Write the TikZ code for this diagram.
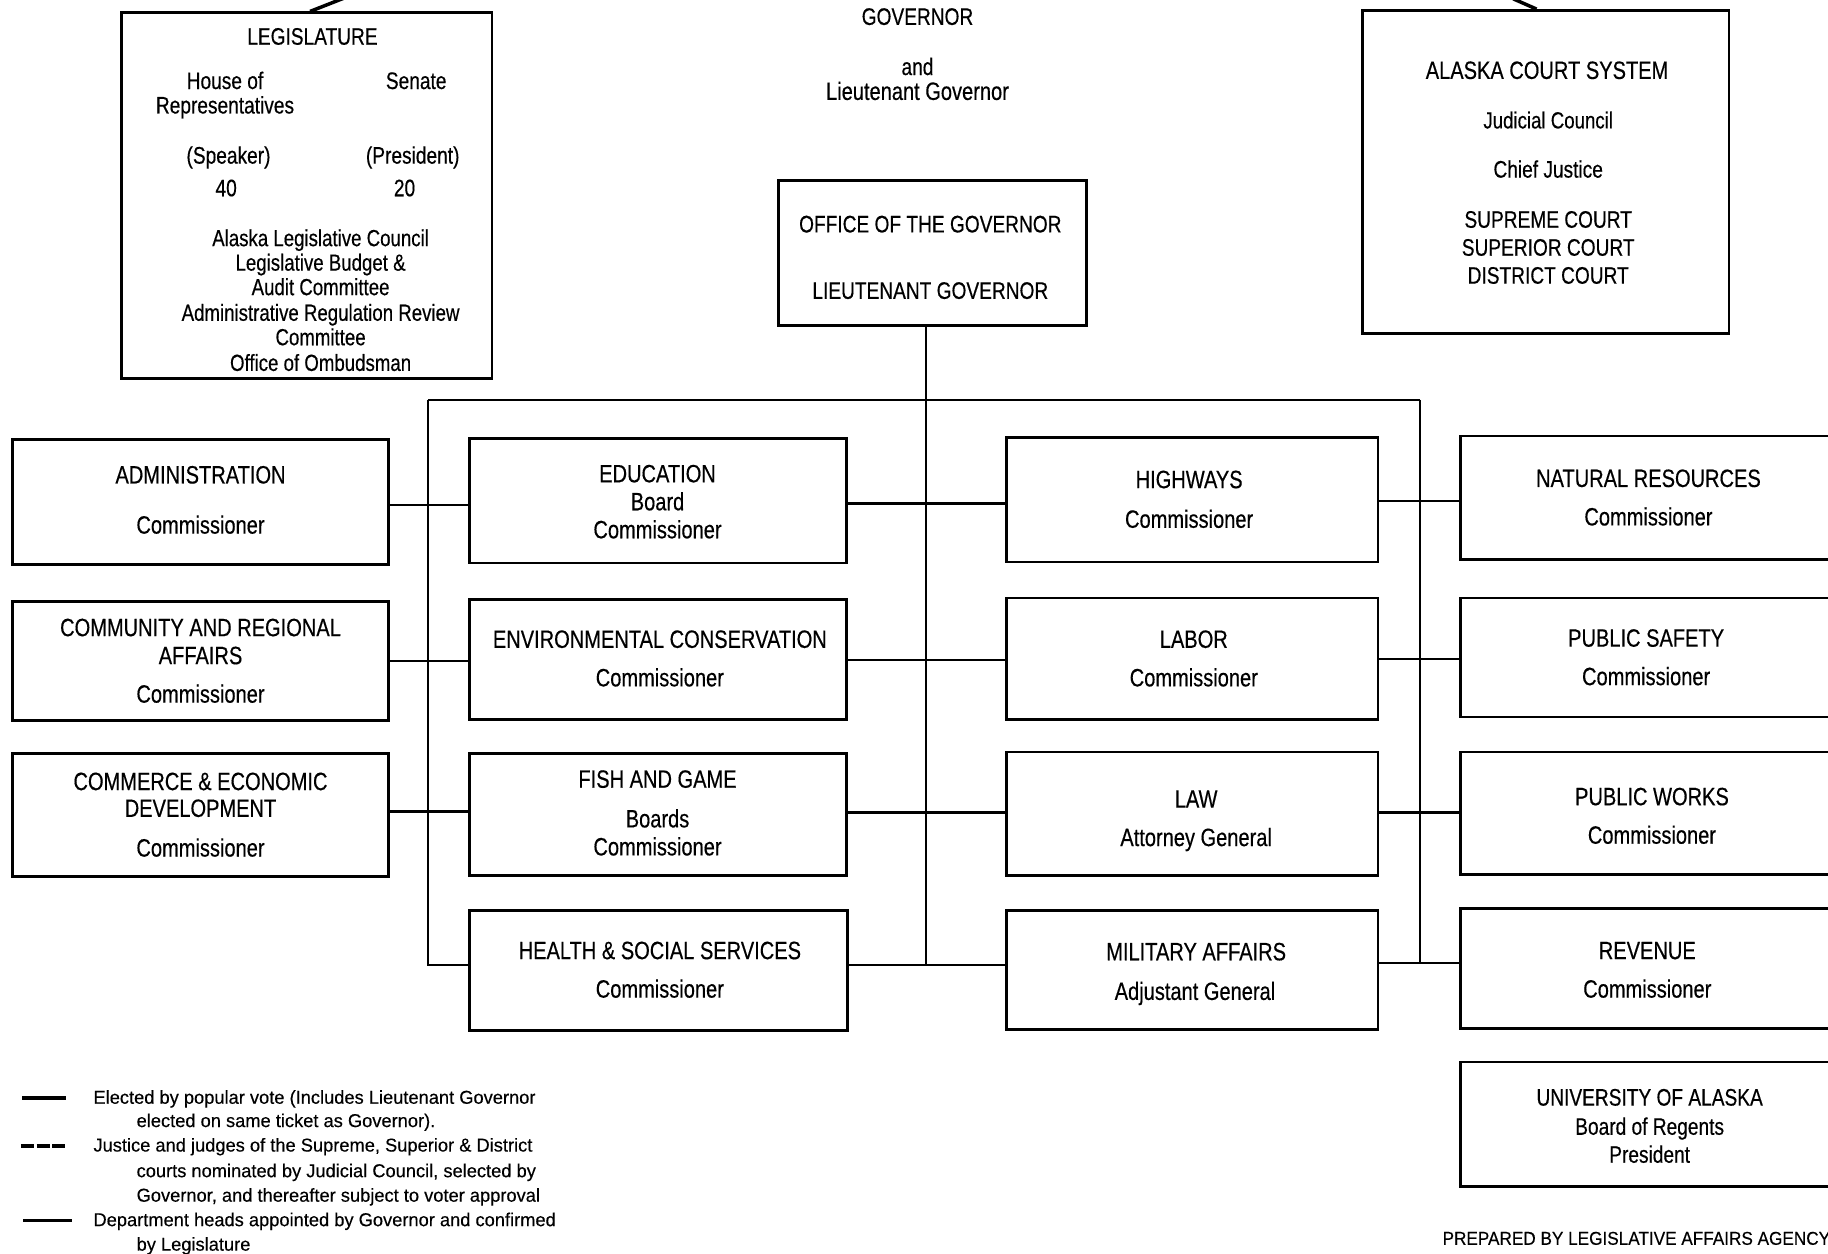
\documentclass[tikz,border=0pt]{standalone}
\usepackage{fontspec}
\setmainfont{Liberation Sans}[FakeStretch=0.8, FakeBold=0.4]
\newfontfamily\legfont{Liberation Sans}[FakeStretch=0.98, FakeBold=0.3]
\newfontfamily\prepfont{Liberation Sans}[FakeStretch=0.92, FakeBold=0.3]
\begin{document}
\begin{tikzpicture}[x=1pt,y=-1pt,
  box/.style={draw=black, line width=2.4pt, rectangle, inner sep=0pt},
  t/.style={inner sep=0pt, font=\fontsize{21.5}{23}\selectfont, text height=15.4pt, text depth=0pt},
  tm/.style={t, font=\fontsize{20.5}{22}\selectfont, text height=14.7pt},
  ts/.style={t, font=\fontsize{20}{22}\selectfont, text height=14.3pt},
  lg/.style={inner sep=0pt, anchor=west, font=\legfont\fontsize{16}{18}\selectfont, text height=11.5pt, text depth=0pt},
  conn/.style={line width=2pt},
  key/.style={line width=3pt}]
\fill[white] (0,0) rectangle (1568,1075);
\clip (0,0) rectangle (1568,1075);

% ---------- top boxes ----------
\node[box, minimum width=318pt, minimum height=314pt] (leg) at (263,168) {};
\node[tm] (legT) at (268,31) {LEGISLATURE};
\node[tm] (legH1) at (193,69) {House of};
\node[tm] (legH2) at (193,90) {Representatives};
\node[tm] (legS) at (357,69) {Senate};
\node[tm] (legSp) at (196,133) {(Speaker)};
\node[tm] (legPr) at (354,133) {(President)};
\node[tm] (leg40) at (194,161) {40};
\node[tm] (leg20) at (347,161) {20};
\node[ts] (legA) at (275,204) {Alaska Legislative Council};
\node[ts] (legB) at (275,225) {Legislative Budget \&};
\node[ts] (legC) at (275,246) {Audit Committee};
\node[ts] (legD) at (275,268) {Administrative Regulation Review};
\node[ts] (legE) at (275,289) {Committee};
\node[ts] (legF) at (275,311) {Office of Ombudsman};

\node[tm] (govA) at (787,14) {GOVERNOR};
\node[tm] (govB) at (787,57) {and};
\node[t] (govC) at (787,78) {Lieutenant Governor};

\node[box, minimum width=264pt, minimum height=124pt] (off) at (800,217) {};
\node[tm] (offA) at (798,192) {OFFICE OF THE GOVERNOR};
\node[tm] (offB) at (798,249) {LIEUTENANT GOVERNOR};

\node[box, minimum width=314pt, minimum height=277pt] (court) at (1326,147.5) {};
\node[t] (cA) at (1327,60) {ALASKA COURT SYSTEM};
\node[ts] (cB) at (1328,103) {Judicial Council};
\node[tm] (cC) at (1328,145) {Chief Justice};
\node[tm] (cD) at (1328,188) {SUPREME COURT};
\node[tm] (cE) at (1328,212) {SUPERIOR COURT};
\node[tm] (cF) at (1328,236) {DISTRICT COURT};

% fragments of lines from above
\draw[line width=3pt] (leg.north -| 266,0) -- (296,-2);
\draw[line width=3pt] (1298,-1) -- (court.north -| 1318,0);

% ---------- column 1 ----------
\node[box, minimum width=322pt, minimum height=107pt] (adm) at (172,430.5) {};
\node[t] at (172,407) (admA) {ADMINISTRATION};
\node[t] at (172,450) (admB) {Commissioner};

\node[box, minimum width=322pt, minimum height=102pt] (com) at (172,567) {};
\node[t] at (172,538) (comA) {COMMUNITY AND REGIONAL};
\node[t] at (172,562) (comB) {AFFAIRS};
\node[t] at (172,595) (comC) {Commissioner};

\node[box, minimum width=322pt, minimum height=106pt] (cmr) at (172,699) {};
\node[t] at (172,670) (cmrA) {COMMERCE \& ECONOMIC};
\node[t] at (172,693) (cmrB) {DEVELOPMENT};
\node[t] at (172,727) (cmrC) {Commissioner};

% ---------- column 2 ----------
\node[box, minimum width=323pt, minimum height=107pt] (edu) at (564.5,429.5) {};
\node[t] at (564,406) (eduA) {EDUCATION};
\node[t] at (564,430) (eduB) {Board};
\node[t] at (564,454) (eduC) {Commissioner};

\node[box, minimum width=323pt, minimum height=103pt] (env) at (564.5,565.5) {};
\node[t] at (566,548) (envA) {ENVIRONMENTAL CONSERVATION};
\node[t] at (566,581) (envB) {Commissioner};

\node[box, minimum width=323pt, minimum height=105pt] (fish) at (564.5,698.5) {};
\node[t] at (564,668) (fishA) {FISH AND GAME};
\node[t] at (564,702) (fishB) {Boards};
\node[t] at (564,726) (fishC) {Commissioner};

\node[box, minimum width=324pt, minimum height=103pt] (hss) at (565,832.5) {};
\node[t] at (566,815) (hssA) {HEALTH \& SOCIAL SERVICES};
\node[t] at (566,848) (hssB) {Commissioner};

% ---------- column 3 ----------
\node[box, minimum width=319pt, minimum height=107pt] (hwy) at (1022.5,428.5) {};
\node[t] at (1020,411) (hwyA) {HIGHWAYS};
\node[t] at (1020,445) (hwyB) {Commissioner};

\node[box, minimum width=319pt, minimum height=104pt] (lab) at (1022.5,565) {};
\node[t] at (1024,548) (labA) {LABOR};
\node[t] at (1024,581) (labB) {Commissioner};

\node[box, minimum width=319pt, minimum height=106pt] (law) at (1022.5,698) {};
\node[t] at (1026,685) (lawA) {LAW};
\node[t] at (1026,718) (lawB) {Attorney General};

\node[box, minimum width=319pt, minimum height=102pt] (mil) at (1022.5,832) {};
\node[t] at (1026,816) (milA) {MILITARY AFFAIRS};
\node[t] at (1025,850) (milB) {Adjustant General};

% ---------- column 4 (cut by the right edge) ----------
\node[box, minimum width=337pt, minimum height=106pt] (nat) at (1421.5,427) {};
\node[t] at (1414,410) (natA) {NATURAL RESOURCES};
\node[t] at (1414,443) (natB) {Commissioner};

\node[box, minimum width=337pt, minimum height=102pt] (ps) at (1421.5,564) {};
\node[t] at (1412,547) (psA) {PUBLIC SAFETY};
\node[t] at (1412,580) (psB) {Commissioner};

\node[box, minimum width=337pt, minimum height=105pt] (pw) at (1421.5,697.5) {};
\node[t] at (1417,683) (pwA) {PUBLIC WORKS};
\node[t] at (1417,716) (pwB) {Commissioner};

\node[box, minimum width=337pt, minimum height=103pt] (rev) at (1421.5,830.5) {};
\node[t] at (1413,815) (revA) {REVENUE};
\node[t] at (1413,848) (revB) {Commissioner};

\node[box, minimum width=337pt, minimum height=107pt] (univ) at (1421.5,964.5) {};
\node[tm] at (1415,941) (univA) {UNIVERSITY OF ALASKA};
\node[tm] at (1415,966) (univB) {Board of Regents};
\node[tm] at (1415,990) (univC) {President};

% ---------- connectors ----------
\coordinate (tl) at (367,343);
\coordinate (tc) at (794,343);
\coordinate (tr) at (1218,343);
\coordinate (bl) at (367,828);
\coordinate (bc) at (794,828);
\coordinate (br) at (1218,826);

\draw[conn] (off.south -| tc) -- (bc);
\draw[conn] (tl) -- (tr);
\draw[conn] (tl) -- (bl) -- (bl -| hss.west);
\draw[conn] (tr) -- (br) -- (br -| rev.west);
\draw[conn] (hss.east |- bc) -- (mil.west |- bc);
\draw[conn] (mil.east |- br) -- (br);

\draw[conn] (adm.east |- 0,433) -- (edu.west |- 0,433);
\draw[conn] (com.east |- 0,567) -- (env.west |- 0,567);
\draw[conn] (cmr.east |- 0,696) -- (fish.west |- 0,696);

\draw[conn] (edu.east |- 0,432) -- (hwy.west |- 0,432);
\draw[conn] (env.east |- 0,566) -- (lab.west |- 0,566);
\draw[conn] (fish.east |- 0,697) -- (law.west |- 0,697);

\draw[conn] (hwy.east |- 0,430) -- (nat.west |- 0,430);
\draw[conn] (lab.east |- 0,565) -- (ps.west |- 0,565);
\draw[conn] (law.east |- 0,697) -- (pw.west |- 0,697);

% ---------- legend ----------
\coordinate (k1a) at (19,942); \coordinate (k1b) at (57,942);
\coordinate (k2a) at (18,983); \coordinate (k2b) at (58,983);
\coordinate (k3a) at (20,1047); \coordinate (k3b) at (62,1047);
\draw[key] (k1a) -- (k1b);
\draw[key, dash pattern=on 11pt off 2.5pt] (k2a) -- (k2b);
\draw[line width=2.5pt] (k3a) -- (k3b);
\node[lg] (lgA) at (80,941) {Elected by popular vote (Includes Lieutenant Governor};
\node[lg] (lgB) at (117,961) {elected on same ticket as Governor).};
\node[lg] (lgC) at (80,982) {Justice and judges of the Supreme, Superior \& District};
\node[lg] (lgD) at (117,1004) {courts nominated by Judicial Council, selected by};
\node[lg] (lgE) at (117,1025) {Governor, and thereafter subject to voter approval};
\node[lg] (lgF) at (80,1046) {Department heads appointed by Governor and confirmed};
\node[lg] (lgG) at (117,1067) {by Legislature};

\node[lg, anchor=east, font=\prepfont\fontsize{16}{18}\selectfont] (prep) at (1570,1062) {PREPARED BY LEGISLATIVE AFFAIRS AGENCY};
\end{tikzpicture}
\end{document}
